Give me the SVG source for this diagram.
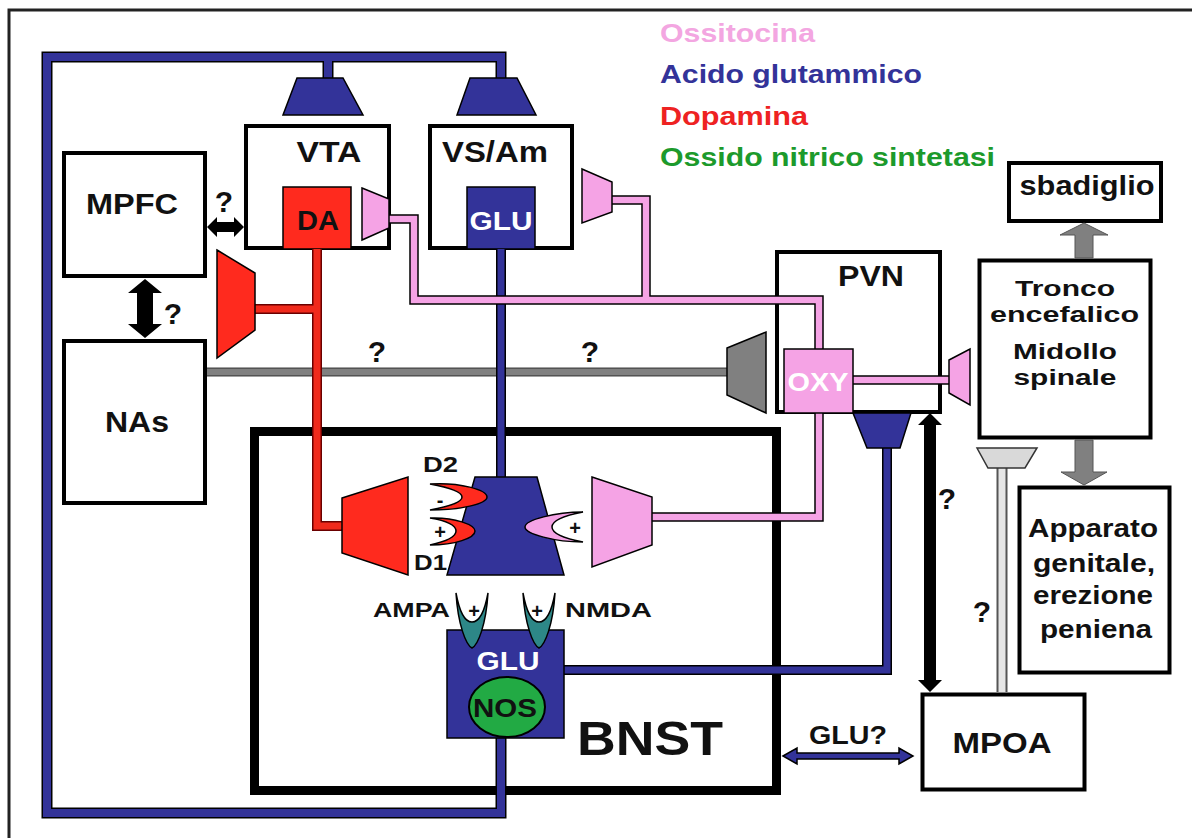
<svg xmlns="http://www.w3.org/2000/svg" xmlns:xlink="http://www.w3.org/1999/xlink" width="1192" height="838" viewBox="0 0 1192 838">
<style>
.box{fill:#fff;stroke:#000;stroke-width:4}
.t{font-family:"Liberation Sans",Arial,sans-serif;font-weight:bold;fill:#111;text-anchor:middle}
.w{fill:#fff}
.lg{font-family:"Liberation Sans",Arial,sans-serif;font-weight:bold;font-size:26px}
.ob{fill:none;stroke:#000;stroke-width:10}
.ob11{fill:none;stroke:#000;stroke-width:11}
.fb{fill:none;stroke:#333399;stroke-width:7}
.fb8{fill:none;stroke:#333399;stroke-width:8}
.or{fill:none;stroke:#6a0000;stroke-width:10}
.fr{fill:none;stroke:#F02A1C;stroke-width:7}
.op{fill:none;stroke:#000;stroke-width:9.5}
.fp{fill:none;stroke:#F5A3E5;stroke-width:6.5}
.og{fill:none;stroke:#444;stroke-width:9}
.fg{fill:none;stroke:#808080;stroke-width:6.5}
.ol{fill:none;stroke:#555;stroke-width:11}
.fl{fill:none;stroke:#e6e6e6;stroke-width:7}
.trB{fill:#333399;stroke:#000;stroke-width:1.5}
.trR{fill:#FF2A1E;stroke:#000;stroke-width:1.5}
.trP{fill:#F5A3E5;stroke:#000;stroke-width:1.5}
.trG{fill:#808080;stroke:#000;stroke-width:1.5}
.trL{fill:#d9d9d9;stroke:#333;stroke-width:1.5}
.arr{fill:#000}
.garr{fill:#808080;stroke:#555;stroke-width:1}
.q{font-family:"Liberation Sans",Arial,sans-serif;font-weight:bold;fill:#111;text-anchor:middle;font-size:30px}
.sg{font-family:"Liberation Sans",Arial,sans-serif;font-weight:bold;fill:#111;text-anchor:middle;font-size:20px}
</style>
<defs>
<path id="pBlue1" d="M501,78 V57 H47 V813 H501 V738"/>
<path id="pBlue2" d="M328,57 V78"/>
<path id="pBlue3" d="M501,249 V477"/>
<path id="pBlue4" d="M564,670 H887 V448"/>
<path id="pRed1" d="M317,249 V526 H342"/>
<path id="pRed2" d="M255,309 H317"/>
<path id="pPink1" d="M389,219 H414 V300 H819 V349"/>
<path id="pPink2" d="M612,200 H646 V300"/>
<path id="pPink3" d="M819,413 V517 H652"/>
<path id="pPink4" d="M853,380 H949"/>
<path id="pGray" d="M207,372 H727"/>
<path id="pLight" d="M1002,468 V692"/>
<path id="tealR" d="M-16,0 C-14,32 -6,52 0,55 C6,52 14,32 16,0 C12,22 6,29 0,29 C-6,29 -12,22 -16,0 Z" fill="#2D8787" stroke="#000" stroke-width="1.5"/>
</defs>

<path d="M9,838 V10 H1192" fill="none" stroke="#222" stroke-width="3"/>

<g id="legend">
<text class="lg" x="660" y="42" fill="#F3A6E1" textLength="155" lengthAdjust="spacingAndGlyphs">Ossitocina</text>
<text class="lg" x="660" y="83" fill="#333399" textLength="262" lengthAdjust="spacingAndGlyphs">Acido glutammico</text>
<text class="lg" x="660" y="125" fill="#EE2222" textLength="148" lengthAdjust="spacingAndGlyphs">Dopamina</text>
<text class="lg" x="660" y="166" fill="#1C9A2C" textLength="335" lengthAdjust="spacingAndGlyphs">Ossido nitrico sintetasi</text>
</g>

<g id="BNST">
<rect x="254.5" y="431.5" width="522" height="359" fill="#fff" stroke="#000" stroke-width="9"/>
<text class="t" x="650" y="755" font-size="49" textLength="146" lengthAdjust="spacingAndGlyphs">BNST</text>
</g>

<g id="MPFC">
<rect class="box" x="64" y="153" width="141" height="123"/>
<text class="t" x="132" y="214" font-size="29" textLength="92" lengthAdjust="spacingAndGlyphs">MPFC</text>
</g>

<g id="NAs">
<rect class="box" x="64" y="341" width="141" height="162"/>
<text class="t" x="137" y="432" font-size="29" textLength="64" lengthAdjust="spacingAndGlyphs">NAs</text>
</g>

<g id="VTA">
<rect class="box" x="246" y="126" width="143" height="122"/>
<text class="t" x="329" y="162" font-size="30" textLength="65" lengthAdjust="spacingAndGlyphs">VTA</text>
<rect x="283" y="187" width="68" height="62" fill="#FF2A1E" stroke="#000" stroke-width="1.5"/>
<text class="t" x="318" y="230" font-size="27" textLength="42" lengthAdjust="spacingAndGlyphs">DA</text>
</g>

<g id="VSAm">
<rect class="box" x="430" y="126" width="142" height="122"/>
<text class="t" x="495" y="162" font-size="29" textLength="106" lengthAdjust="spacingAndGlyphs">VS/Am</text>
<rect x="467" y="187" width="68" height="62" fill="#333399" stroke="#000" stroke-width="1.5"/>
<text class="t w" x="501" y="230" font-size="26" textLength="63" lengthAdjust="spacingAndGlyphs">GLU</text>
</g>

<g id="PVN">
<rect class="box" x="777" y="252" width="163" height="160"/>
<text class="t" x="871" y="286" font-size="29" textLength="66" lengthAdjust="spacingAndGlyphs">PVN</text>
</g>

<g id="sbadiglio">
<rect class="box" x="1009" y="163" width="152" height="58" stroke-width="4.5"/>
<text class="t" x="1087" y="195" font-size="27" textLength="135" lengthAdjust="spacingAndGlyphs">sbadiglio</text>
</g>

<g id="Tronco">
<rect class="box" x="979.5" y="260.5" width="171" height="177" stroke-width="5"/>
<text class="t" x="1065" y="296" font-size="22" textLength="100" lengthAdjust="spacingAndGlyphs">Tronco</text>
<text class="t" x="1064.5" y="322" font-size="22" textLength="149" lengthAdjust="spacingAndGlyphs">encefalico</text>
<text class="t" x="1065" y="359" font-size="22" textLength="104" lengthAdjust="spacingAndGlyphs">Midollo</text>
<text class="t" x="1065" y="385" font-size="22" textLength="103" lengthAdjust="spacingAndGlyphs">spinale</text>
</g>

<g id="Apparato">
<rect class="box" x="1019.5" y="487.5" width="150" height="185" stroke-width="5"/>
<text class="t" x="1093" y="537" font-size="25" textLength="130" lengthAdjust="spacingAndGlyphs">Apparato</text>
<text class="t" x="1094" y="572" font-size="25" textLength="122" lengthAdjust="spacingAndGlyphs">genitale,</text>
<text class="t" x="1093" y="604" font-size="25" textLength="120" lengthAdjust="spacingAndGlyphs">erezione</text>
<text class="t" x="1096" y="638" font-size="25" textLength="112" lengthAdjust="spacingAndGlyphs">peniena</text>
</g>

<g id="MPOA">
<rect class="box" x="922.5" y="694.5" width="162" height="95" stroke-width="5"/>
<text class="t" x="1002" y="753" font-size="30" textLength="99" lengthAdjust="spacingAndGlyphs">MPOA</text>
</g>

<g id="connectors">
<use xlink:href="#pGray" class="og"/>
<use xlink:href="#pGray" class="fg"/>
<use xlink:href="#pLight" class="ol"/>
<use xlink:href="#pLight" class="fl"/>
<use xlink:href="#pBlue1" class="ob11"/>
<use xlink:href="#pBlue2" class="ob11"/>
<use xlink:href="#pBlue3" class="ob"/>
<use xlink:href="#pBlue4" class="ob"/>
<use xlink:href="#pBlue1" class="fb8"/>
<use xlink:href="#pBlue2" class="fb8"/>
<use xlink:href="#pBlue3" class="fb"/>
<use xlink:href="#pBlue4" class="fb"/>
<use xlink:href="#pPink1" class="op"/>
<use xlink:href="#pPink2" class="op"/>
<use xlink:href="#pPink3" class="op"/>
<use xlink:href="#pPink4" class="op"/>
<use xlink:href="#pPink1" class="fp"/>
<use xlink:href="#pPink2" class="fp"/>
<use xlink:href="#pPink3" class="fp"/>
<use xlink:href="#pPink4" class="fp"/>
<use xlink:href="#pRed1" class="or"/>
<use xlink:href="#pRed2" class="or"/>
<use xlink:href="#pRed1" class="fr"/>
<use xlink:href="#pRed2" class="fr"/>

<polygon class="trB" points="297,78 343,78 363,115 283,115"/>
<polygon class="trB" points="470,78 517,78 536,115 457,115"/>
<polygon class="trP" points="362,188 389,199 389,228 362,240"/>
<polygon class="trP" points="582,169 612,182 612,212 582,223"/>
<polygon class="trR" points="217,250 255,273 255,330 217,358"/>
<polygon class="trG" points="727,348 766,332 766,413 727,395"/>
<polygon class="trP" points="949,360 970,349 970,405 949,393"/>
<polygon class="trB" points="853,413 911,413 900,448 867,448"/>
<polygon class="trL" points="977,448 1037,448 1025,468 988,468"/>
<polygon class="trB" points="475,477 537,477 564,575 447,575"/>
<polygon class="trR" points="342,498 408,477 408,575 342,553"/>
<polygon class="trP" points="592,477 652,497 652,545 592,567"/>

<polygon class="arr" points="207,227 217,217 217,222 234,222 234,217 244,227 234,237 234,232 217,232 217,237"/>
<polygon class="arr" points="145,279 162,293 153,293 153,324 162,324 145,338 128,324 137,324 137,293 128,293"/>
<polygon class="arr" points="930,413 942,425 936,425 936,680 942,680 930,692 918,680 924,680 924,425 918,425"/>
<polygon points="783,756 797,748 797,753 899,753 899,748 913,756 899,764 899,759 797,759 797,764" fill="#333399" stroke="#000" stroke-width="1.5"/>
<polygon class="garr" points="1084,223 1108,235 1093,235 1093,258 1075,258 1075,235 1060,235"/>
<polygon class="garr" points="1075,440 1093,440 1093,472 1107,472 1084,485 1061,472 1075,472"/>

<text class="q" x="224" y="212" font-size="26">?</text>
<text class="q" x="173" y="324">?</text>
<text class="q" x="377" y="362">?</text>
<text class="q" x="590" y="362">?</text>
<text class="q" x="947" y="509">?</text>
<text class="q" x="982" y="622" font-size="32">?</text>
<text class="t" x="848" y="744" font-size="25" textLength="78" lengthAdjust="spacingAndGlyphs">GLU?</text>
</g>

<g id="OXY">
<rect x="784" y="349" width="69" height="64" fill="#F5A3E5" stroke="#000" stroke-width="1.5"/>
<text class="t w" x="818" y="391" font-size="25" textLength="61" lengthAdjust="spacingAndGlyphs">OXY</text>
</g>

<g id="receptors">
<path d="M430,484 C460,482 487,490 487,497 C487,504 460,510 430,510 C452,506 462,502 462,497 C462,492 452,488 430,484 Z" fill="#FF2A1E" stroke="#000" stroke-width="1.5"/>
<path d="M430,518 C455,517 475,525 475,531 C475,538 455,545 430,545 C448,541 456,536 456,531 C456,526 448,521 430,518 Z" fill="#FF2A1E" stroke="#000" stroke-width="1.5"/>
<path d="M583,512 C555,512 525,520 525,527 C525,534 555,542 583,542 C562,538 552,533 552,527 C552,521 562,516 583,512 Z" fill="#F5A3E5" stroke="#000" stroke-width="1.5"/>
<text class="sg" x="440" y="507">-</text>
<text class="sg" x="440" y="539">+</text>
<text class="sg" x="575" y="535">+</text>
<text class="t" x="440.5" y="472" font-size="22" textLength="35" lengthAdjust="spacingAndGlyphs">D2</text>
<text class="t" x="430.5" y="570" font-size="22" textLength="33" lengthAdjust="spacingAndGlyphs">D1</text>
<text class="t" x="411.5" y="617" font-size="21" textLength="77" lengthAdjust="spacingAndGlyphs">AMPA</text>
<text class="t" x="608.5" y="617" font-size="21" textLength="87" lengthAdjust="spacingAndGlyphs">NMDA</text>
</g>

<g id="GLU_NOS">
<rect x="447" y="630" width="117" height="108" fill="#333399" stroke="#000" stroke-width="1.5"/>
<use xlink:href="#tealR" transform="translate(472,593)"/>
<use xlink:href="#tealR" transform="translate(539,593)"/>
<text class="sg" x="474" y="618">+</text>
<text class="sg" x="537" y="618">+</text>
<text class="t w" x="508" y="670" font-size="25" textLength="63" lengthAdjust="spacingAndGlyphs">GLU</text>
<ellipse cx="507" cy="707" rx="38" ry="30" fill="#22AA44" stroke="#000" stroke-width="2"/>
<text class="t" x="505" y="717" font-size="25" textLength="64" lengthAdjust="spacingAndGlyphs">NOS</text>
</g>
</svg>
